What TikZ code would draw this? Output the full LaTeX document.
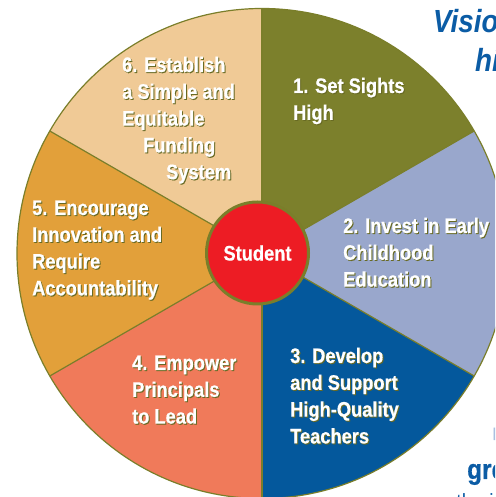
\documentclass[tikz,border=0pt]{standalone}
\usepackage{fontspec}
\setmainfont{Liberation Sans}
\newfontfamily\condfont{Liberation Sans}[FakeStretch=0.87,BoldFeatures={FakeBold=0.6}]

\definecolor{rim}{RGB}{122,126,42}
\definecolor{shade}{RGB}{104,106,36}
\definecolor{sightsgreen}{RGB}{124,128,44}
\definecolor{earlylav}{RGB}{153,167,204}
\definecolor{teachblue}{RGB}{4,88,156}
\definecolor{leadsalmon}{RGB}{240,122,90}
\definecolor{innovorange}{RGB}{226,160,58}
\definecolor{fundtan}{RGB}{240,202,150}
\definecolor{studred}{RGB}{237,28,36}
\definecolor{headblue}{RGB}{11,92,165}
\definecolor{paleblue}{RGB}{170,192,224}

\tikzset{
  lbl/.style={text=white, font=\condfont\bfseries\fontsize{21}{26.8}\selectfont,
    align=left, inner sep=0pt, anchor=base west},
  lblshadow/.style={lbl, text=shade, xshift=1pt, yshift=-1pt},
  spoke/.style={draw=rim, line width=1.2pt},
  sidetext/.style={text=headblue, inner sep=0pt, anchor=base west},
}

% #2 is the baseline of the last line
\newcommand{\wedgelabel}[3]{%
  \node[lblshadow] at (#2) {#3};
  \node[lbl] (#1) at (#2) {#3};}

\begin{document}
\begin{tikzpicture}[x=1pt,y=1pt]
    \useasboundingbox (0,0) rectangle (495,497);
    \clip (0,0) rectangle (495,497);
    \coordinate (hub) at (262,243.5);
    % the six slices
    \fill[sightsgreen] (hub) -- ++(30:245) arc[start angle=30,end angle=90,radius=245] -- cycle;
    \fill[earlylav] (hub) -- ++(-30:245) arc[start angle=-30,end angle=30,radius=245] -- cycle;
    \fill[teachblue] (hub) -- ++(270:245) arc[start angle=270,end angle=330,radius=245] -- cycle;
    \fill[leadsalmon] (hub) -- ++(210:245) arc[start angle=210,end angle=270,radius=245] -- cycle;
    \fill[innovorange] (hub) -- ++(150:245) arc[start angle=150,end angle=210,radius=245] -- cycle;
    \fill[fundtan] (hub) -- ++(90:245) arc[start angle=90,end angle=150,radius=245] -- cycle;
    \draw[spoke] (hub) -- ++(30:245);
    \draw[spoke] (hub) -- ++(90:245);
    \draw[spoke] (hub) -- ++(150:245);
    \draw[spoke] (hub) -- ++(210:245);
    \draw[spoke] (hub) -- ++(270:245);
    \draw[spoke] (hub) -- ++(330:245);
    \draw[spoke] (hub) circle[radius=245];
    % labels
    \wedgelabel{sights}{293,377.2}{1. Set Sights\\High}
    \wedgelabel{early}{343,210.4}{2. Invest in Early\\Childhood\\Education}
    \wedgelabel{teachers}{290,53.6}{3. Develop\\and Support\\High-Quality\\Teachers}
    \wedgelabel{principals}{132,73.4}{4. Empower\\Principals\\to Lead}
    \wedgelabel{innovation}{32,201.6}{5. Encourage\\Innovation and\\Require\\Accountability}
    \wedgelabel{funding}{122,317.8}{6. Establish\\a Simple and\\Equitable\\\hspace*{21pt}Funding\\\hspace*{44pt}System}
    \node[circle, fill=studred, draw=rim, line width=3pt, minimum size=102pt, inner sep=0pt,
          text=white, font=\condfont\bfseries\fontsize{21}{24}\selectfont] (student) at (257.5,244) {Student};
    % cut-off text at the right edge
    \node[sidetext, font=\condfont\bfseries\itshape\fontsize{32}{36}\selectfont] (vision) at (433,464) {Vision};
    \node[sidetext, font=\condfont\bfseries\itshape\fontsize{32}{36}\selectfont] (hi) at (475,425) {hi};
    \node[sidetext, text=paleblue, font=\condfont\bfseries\fontsize{18}{20}\selectfont] (bar) at (492.5,57) {I};
    \node[sidetext, font=\condfont\bfseries\fontsize{28}{30}\selectfont] (gre) at (467,18) {gre};
    \node[sidetext, font=\condfont\fontsize{22}{24}\selectfont] (auth) at (435,-12.5) {authori};
\end{tikzpicture}
\end{document}
